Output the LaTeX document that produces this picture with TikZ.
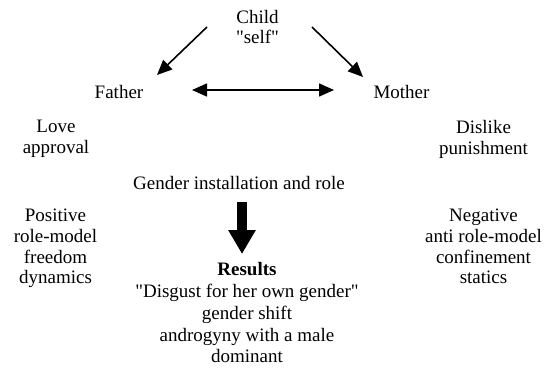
\documentclass[tikz,border=0pt]{standalone}
\usepackage{fontspec}
\setmainfont{Liberation Serif}[Ligatures=TeXOff]
\usetikzlibrary{arrows.meta}
\begin{document}
\begin{tikzpicture}[x=1pt,y=-1pt,
  lbl/.style={font=\fontsize{19}{21}\selectfont, inner sep=0pt, align=center},
  arr/.style={line width=1.6pt, -{Triangle[length=15pt,width=13pt]}},
  darr/.style={line width=1.6pt, {Triangle[length=15pt,width=13pt]}-{Triangle[length=15pt,width=13pt]}},
  bigarr/.style={line width=10pt, -{Triangle[length=24pt,width=26pt]}}]
\useasboundingbox (0,0) rectangle (548,371);
\node[lbl, font=\fontsize{19}{20}\selectfont, anchor=north] (child) at (257.5,10) {Child\\"self"};
\node[lbl, anchor=base] (father) at (119,99) {Father};
\node[lbl, anchor=base] (mother) at (401.5,99) {Mother};
\node[lbl, anchor=north] (love) at (56,120) {Love\\approval};
\node[lbl, anchor=north] (dislike) at (483.5,120) {Dislike\\punishment};
\node[lbl, anchor=base] (gender) at (239,190) {Gender installation and role};
\node[lbl, font=\fontsize{19}{20.7}\selectfont, anchor=north] (pos) at (55.5,209) {Positive\\role-model\\freedom\\dynamics};
\node[lbl, font=\fontsize{19}{20.7}\selectfont, anchor=north] (neg) at (483.5,209) {Negative\\anti role-model\\confinement\\statics};
\node[lbl, font=\fontsize{19}{21.9}\selectfont, anchor=north] (results) at (247,262) {\textbf{Results}\\"Disgust for her own gender"\\gender shift\\androgyny with a male\\dominant};
\draw[arr] ([shift={(-50.5,17)}]child.north) -- ([shift={(38,-24)}]father.base);
\draw[arr] ([shift={(54.5,17)}]child.north) -- ([shift={(-38.5,-22)}]mother.base);
\draw[darr] ([shift={(73,-9)}]father.base) -- ([shift={(-67.5,-9)}]mother.base);
\draw[bigarr] ([xshift=3pt,yshift=-12pt]gender.base) -- ([xshift=3pt,yshift=8pt]gender.base |- results.north);
\end{tikzpicture}
\end{document}
